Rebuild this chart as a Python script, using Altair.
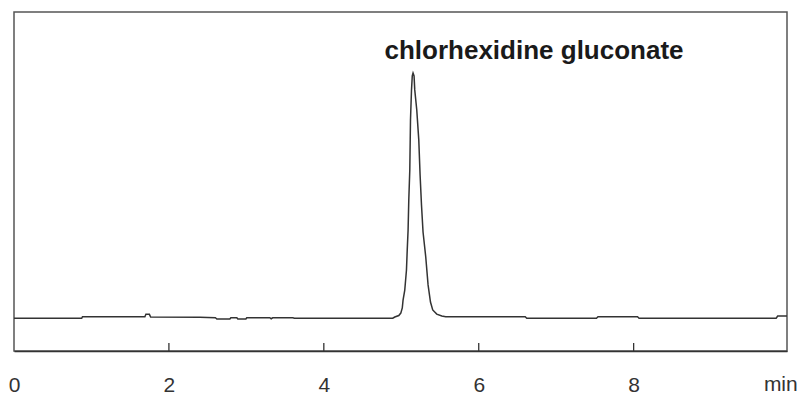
import altair as alt
import pandas as pd

# chromatogram trace (time in min, detector signal in arbitrary units)
times = [0, 0.874, 0.884, 1.690, 1.703, 1.748, 1.764, 2.40, 2.60, 2.619, 2.787, 2.80,
         2.877, 2.89, 2.994, 3.005, 3.303, 3.32, 3.34, 3.60, 3.62, 4.89, 4.916, 4.968,
         4.994, 5.013, 5.023, 5.045, 5.067, 5.077, 5.088, 5.097, 5.110, 5.119, 5.132,
         5.142, 5.152, 5.165, 5.174, 5.200, 5.226, 5.243, 5.261, 5.281, 5.316, 5.346,
         5.377, 5.406, 5.458, 5.523, 5.574, 6.60, 6.62, 7.52, 7.54, 8.05, 8.07, 9.84,
         9.86, 9.98]
signal = [-0.1, -0.1, 0.5, 0.5, 1.5, 1.5, 0.4, 0.3, 0.1, -0.4, -0.4, 0.1,
          0.1, -0.4, -0.4, 0.1, 0.1, -0.3, 0.1, 0.1, -0.1, -0.1, 0.4, 1.0,
          2.0, 4.1, 7.3, 11.4, 19.6, 27.8, 35.9, 48.2, 60.4, 80.8, 93.1,
          98.8, 100.0, 98.8, 93.1, 84.9, 72.7, 58.4, 46.1, 35.1, 24.9, 13.5,
          6.5, 3.3, 1.6, 0.8, 0.5, 0.5, -0.1, -0.1, 0.5, 0.5, -0.1, -0.1,
          0.8, 0.8]

tick_labels = [0, 2, 4, 6, 8]
tick_marks = [2, 4, 6, 8]
unit_label = "min"
unit_pos = 9.90
peak_label = "chlorhexidine gluconate"
peak_label_t = 6.714
peak_label_v = 105.7

x_dom = [0, 9.98]
y_dom = [-13.47, 124.9]

trace = pd.DataFrame({"t": times, "v": signal})
ticks_df = pd.DataFrame({"t": tick_marks})
unit_df = pd.DataFrame({"t": [unit_pos], "label": [unit_label]})
ann_df = pd.DataFrame({"t": [peak_label_t], "v": [peak_label_v], "label": [peak_label]})

xs = alt.Scale(domain=x_dom, nice=False, zero=False)
ys = alt.Scale(domain=y_dom, nice=False, zero=False)

line = alt.Chart(trace).mark_line(color="#333333", strokeWidth=1.5).encode(
    x=alt.X("t:Q", scale=xs,
            axis=alt.Axis(values=tick_labels, format="d", title=None, grid=False,
                          ticks=False, tickSize=0, labelPadding=44,
                          labelBaseline="bottom", labelFontSize=21,
                          labelFont="Liberation Sans", labelColor="#333333",
                          domainColor="#333333", domainWidth=1.5, labelFlush=False)),
    y=alt.Y("v:Q", scale=ys, axis=None),
)

tick_rules = alt.Chart(ticks_df).mark_rule(color="#333333", strokeWidth=1.3).encode(
    x=alt.X("t:Q", scale=xs),
    y=alt.value(331),
    y2=alt.value(339),
)

unit_text = alt.Chart(unit_df).mark_text(
    font="Liberation Sans", fontSize=21, color="#333333",
    align="center", baseline="bottom"
).encode(
    x=alt.X("t:Q", scale=xs),
    y=alt.value(383),
    text="label:N",
)

ann = alt.Chart(ann_df).mark_text(
    font="Liberation Sans", fontSize=26, fontWeight="bold", color="#1a1a1a",
    align="center", baseline="alphabetic"
).encode(
    x=alt.X("t:Q", scale=xs),
    y=alt.Y("v:Q", scale=ys),
    text="label:N",
)

chart = alt.layer(line, tick_rules, unit_text, ann).properties(
    width=773,
    height=339,
    autosize=alt.AutoSizeParams(type="none"),
    padding={"left": 6, "top": 4, "right": 11, "bottom": 45},
).configure(
    background="white"
).configure_view(
    stroke="#555555", strokeWidth=1.5
)

chart.save("out.html", embed_options={"renderer": "svg", "actions": False})
